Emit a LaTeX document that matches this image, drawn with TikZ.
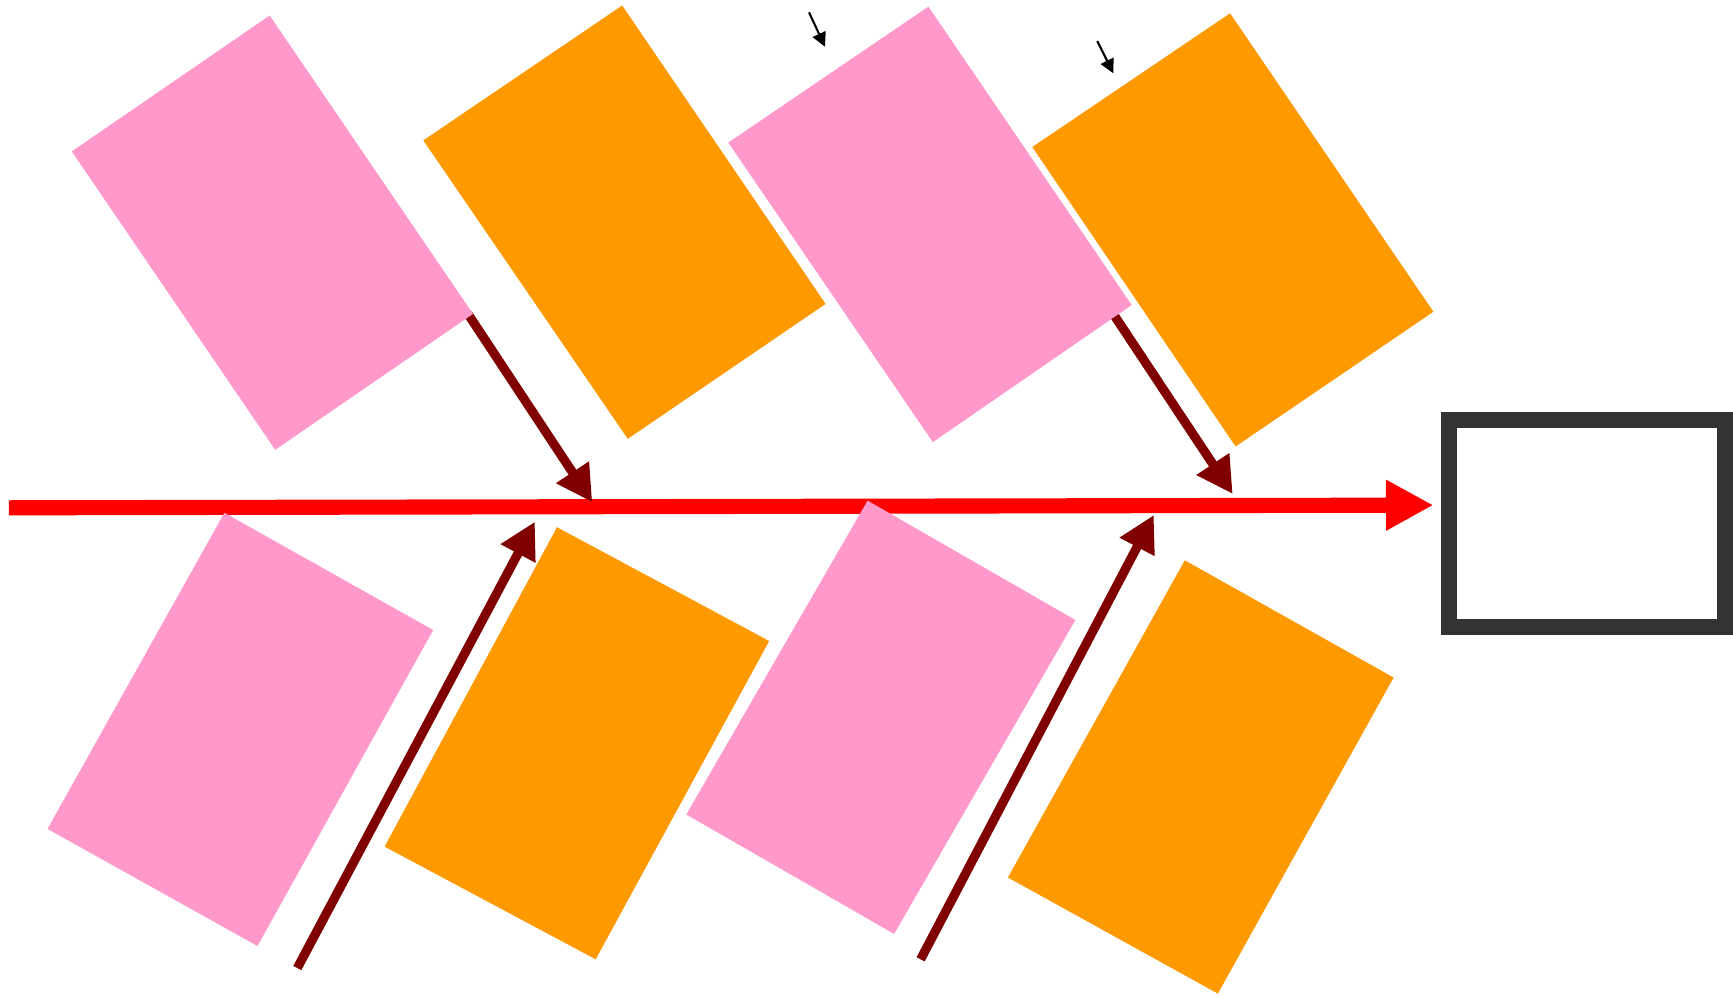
\documentclass[tikz,border=0pt]{standalone}
\usepackage{tikz}
\usetikzlibrary{arrows.meta}
\definecolor{tilepink}{HTML}{FF99CC}
\definecolor{tileorange}{HTML}{FF9900}
\definecolor{darkred}{HTML}{800000}
\definecolor{boxgray}{HTML}{333333}
\tikzset{
  pinktile/.style={fill=tilepink},
  orangetile/.style={fill=tileorange},
  feed/.style={draw=darkred, line width=2.6pt, -{Triangle[length=3.6mm,width=3.7mm]}},
  mainline/.style={draw=red, line width=4.3pt, -{Triangle[length=4.74mm,width=4.75mm]}},
  tick/.style={draw=black, line width=0.6pt, -{Triangle[length=1.4mm,width=1.4mm]}}
}
\begin{document}
\begin{tikzpicture}[x=0.01cm,y=-0.01cm]
\useasboundingbox (0,0) rectangle (1733,996);
\draw[mainline] (8.8,507.8) coordinate(S) -- (1433.4,505.1) coordinate(T);
\draw[line width=4.55pt, draw=boxgray] (1449.3,420.3) rectangle (1725.3,626.7);
\coordinate (a1) at (468,314);  \coordinate (a2) at (592.3,502.3);
\coordinate (b1) at (1112,312); \coordinate (b2) at (1232.7,494);
\coordinate (c1) at (297.3,968); \coordinate (c2) at (534.9,521.7);
\coordinate (d1) at (920.6,959.3); \coordinate (d2) at (1153.8,515);
\draw[feed] (a1) -- (a2);
\draw[feed] (b1) -- (b2);
\draw[feed] (c1) -- (c2);
\draw[feed] (d1) -- (d2);
\fill[pinktile] (269.7,15.5) -- (473.0,313.9) -- (275.2,449.8) -- (71.8,151.4) -- cycle;
\fill[orangetile] (622.2,5.5) -- (825.6,303.9) -- (627.8,438.8) -- (423.3,140.4) -- cycle;
\fill[pinktile] (928.4,6.6) -- (1131.7,305.0) -- (932.8,442.1) -- (728.3,142.6) -- cycle;
\fill[orangetile] (1230.1,13.3) -- (1433.4,311.7) -- (1235.6,446.5) -- (1032.3,147.0) -- cycle;
\fill[pinktile] (224.4,512.8) -- (433.2,630.0) -- (257.5,946.0) -- (47.5,828.9) -- cycle;
\fill[orangetile] (557.0,527.2) -- (769.2,641.0) -- (595.7,959.3) -- (384.6,846.6) -- cycle;
\fill[pinktile] (867.6,500.6) -- (1075.4,620.0) -- (894.1,933.9) -- (686.3,814.5) -- cycle;
\fill[orangetile] (1184.8,560.3) -- (1393.6,677.5) -- (1217.9,993.6) -- (1007.9,877.5) -- cycle;
\coordinate (e1) at (809,12.3);    \coordinate (e2) at (825,46.7);
\coordinate (f1) at (1097.3,41);   \coordinate (f2) at (1113.3,73.3);
\draw[tick] (e1) -- (e2);
\draw[tick] (f1) -- (f2);
\end{tikzpicture}
\end{document}
